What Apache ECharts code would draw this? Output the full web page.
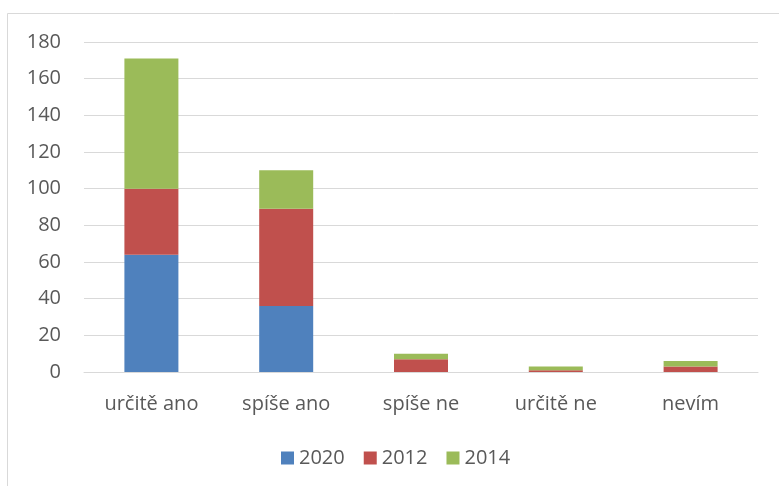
<!DOCTYPE html>
<html>
<head>
<meta charset="utf-8">
<script src="https://cdn.jsdelivr.net/npm/echarts@6/dist/echarts.min.js"></script>
<style>
  html, body { margin: 0; padding: 0; background: #fff; }
  #chart { width: 779px; height: 486px; }
</style>
</head>
<body>
<div id="chart"></div>
<script>
const categories = ['určitě ano', 'spíše ano', 'spíše ne', 'určitě ne', 'nevím'];
const values2020 = [64, 36, 0, 0, 0];
const values2012 = [36, 53, 7, 1, 3];
const values2014 = [71, 21, 3, 2, 3];

const chart = echarts.init(document.getElementById('chart'));
const font = 'Open Sans, Lato, sans-serif';

const option = {
  animation: false,
  backgroundColor: '#fff',
  graphic: [{
    type: 'rect',
    shape: { x: 7.5, y: 13.5, width: 800, height: 480 },
    style: { fill: 'none', stroke: '#d9d9d9', lineWidth: 1 },
    silent: true
  }],
  legend: {
    bottom: 13,
    left: 276,
    icon: 'rect',
    itemWidth: 13,
    itemHeight: 13,
    itemGap: 19,
    itemStyle: { borderWidth: 0 },
    textStyle: { fontFamily: font, fontSize: 20, color: '#595959' },
    data: ['2020', '2012', '2014']
  },
  grid: { left: 84, right: 21, top: 42, bottom: 114 },
  xAxis: {
    type: 'category',
    data: categories,
    axisLine: { lineStyle: { color: '#d9d9d9', width: 1 } },
    axisTick: { show: false },
    axisLabel: { fontFamily: font, fontSize: 20, color: '#595959', margin: 22 }
  },
  yAxis: {
    type: 'value',
    min: 0,
    max: 180,
    interval: 20,
    axisLine: { show: false },
    axisTick: { show: false },
    splitLine: { lineStyle: { color: '#d9d9d9', width: 1 } },
    axisLabel: { fontFamily: font, fontSize: 20, color: '#595959', margin: 23 }
  },
  series: [
    { name: '2020', type: 'bar', stack: 'a', barWidth: 54, data: values2020, itemStyle: { color: '#4f81bd' } },
    { name: '2012', type: 'bar', stack: 'a', barWidth: 54, data: values2012, itemStyle: { color: '#c0504d' } },
    { name: '2014', type: 'bar', stack: 'a', barWidth: 54, data: values2014, itemStyle: { color: '#9bbb59' } }
  ]
};

chart.setOption(option);
</script>
</body>
</html>
